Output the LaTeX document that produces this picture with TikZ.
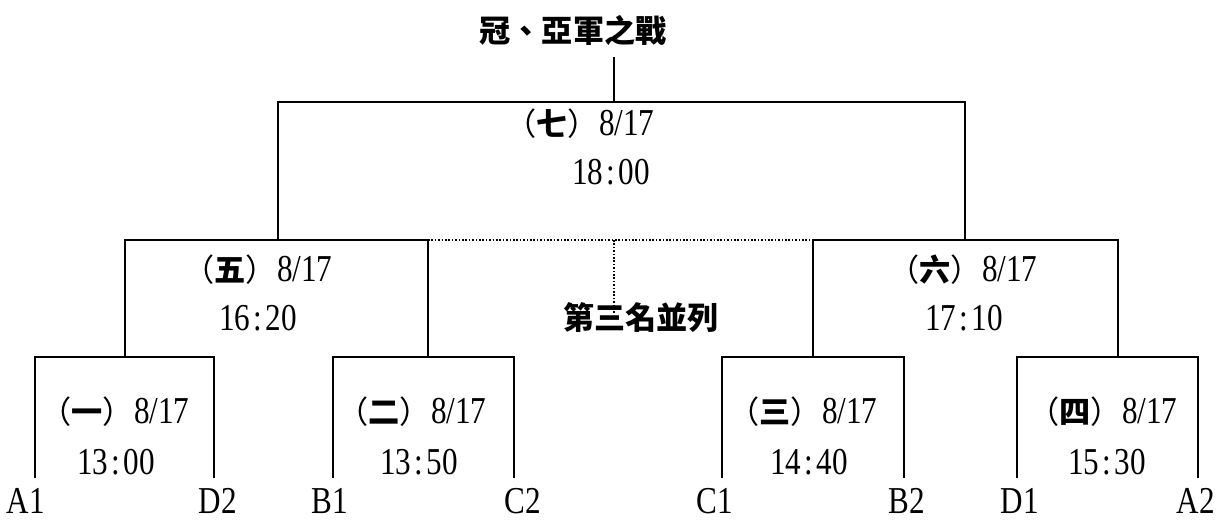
\documentclass[tikz,border=0pt]{standalone}
\usepackage{fontspec}
\setmainfont{Liberation Serif}[FakeStretch=0.82]
\newfontfamily\cjk{Noto Sans CJK TC}[Scale=0.82]
\newcommand\zh[1]{{\cjk\bfseries #1}}
\newcommand\num[1]{{\cjk （{\bfseries #1}）}}
\newcommand\tcol{\makebox[\fontcharwd\font`0]{:}}
\begin{document}
\begin{tikzpicture}[x=1pt,y=-1pt,
  bracket/.style={line width=2pt},
  dotline/.style={line width=1.6pt, dash pattern=on 1.6pt off 1.8pt},
  txt/.style={inner sep=0pt, font=\fontsize{38}{40}\selectfont}]
\useasboundingbox (0,0) rectangle (1216,521);
% coordinates
\coordinate (top) at (614,57);
\coordinate (t7) at (614,102);
\coordinate (l7) at (278,102);
\coordinate (r7) at (965,102);
\coordinate (l7b) at (278,240);
\coordinate (r7b) at (965,240);
\coordinate (l5) at (125,240);
\coordinate (r5) at (428,240);
\coordinate (l5b) at (125,357);
\coordinate (r5b) at (428,357);
\coordinate (l6) at (813,240);
\coordinate (r6) at (1118,240);
\coordinate (l6b) at (813,357);
\coordinate (r6b) at (1118,357);
\coordinate (d0) at (614,240);
\coordinate (d1) at (614,313);
% level 1 boxes
\foreach \n/\a/\b in {1/35/214, 2/333/514, 3/722/904, 4/1017/1198}{
  \coordinate (g\n a) at (\a,357);
  \coordinate (g\n b) at (\b,357);
  \coordinate (g\n al) at (\a,478);
  \coordinate (g\n bl) at (\b,478);
}
% lines
\draw[bracket] (top) -- (t7);
\draw[bracket] (l7b) -- (l7) -- (r7) -- (r7b);
\draw[bracket] (l5b) -- (l5) -- (r5) -- (r5b);
\draw[bracket] (l6b) -- (l6) -- (r6) -- (r6b);
\draw[dotline] (r5) -- (l6);
\draw[dotline] (d0) -- (d1);
\foreach \n in {1,2,3,4}{
  \draw[bracket] (g\n al) -- (g\n a) -- (g\n b) -- (g\n bl);
}
% texts
\node[txt] (title) at (573,30) {\zh{冠、亞軍之戰}};
\node[txt] (m7a) at (580,124) {\num{七}8/17};
\node[txt] (m7b) at (611,172) {18\tcol 00};
\node[txt] (m5a) at (258,270) {\num{五}8/17};
\node[txt] (m5b) at (258,318) {16\tcol 20};
\node[txt] (m6a) at (963,270) {\num{六}8/17};
\node[txt] (m6b) at (964,318) {17\tcol 10};
\node[txt] (third) at (641,318) {\zh{第三名並列}};
\node[txt] (m1a) at (115,412) {\num{一}8/17};
\node[txt] (m1b) at (116,462) {13\tcol 00};
\node[txt] (m2a) at (412,412) {\num{二}8/17};
\node[txt] (m2b) at (419,462) {13\tcol 50};
\node[txt] (m3a) at (803,412) {\num{三}8/17};
\node[txt] (m3b) at (809,462) {14\tcol 40};
\node[txt] (m4a) at (1103,412) {\num{四}8/17};
\node[txt] (m4b) at (1107,462) {15\tcol 30};
\node[txt] (A1) at (26,501) {A1};
\node[txt] (D2) at (218,501) {D2};
\node[txt] (B1) at (330,501) {B1};
\node[txt] (C2) at (523,501) {C2};
\node[txt] (C1) at (715,501) {C1};
\node[txt] (B2) at (907,501) {B2};
\node[txt] (D1) at (1020,501) {D1};
\node[txt] (A2) at (1196,501) {A2};
\end{tikzpicture}
\end{document}
